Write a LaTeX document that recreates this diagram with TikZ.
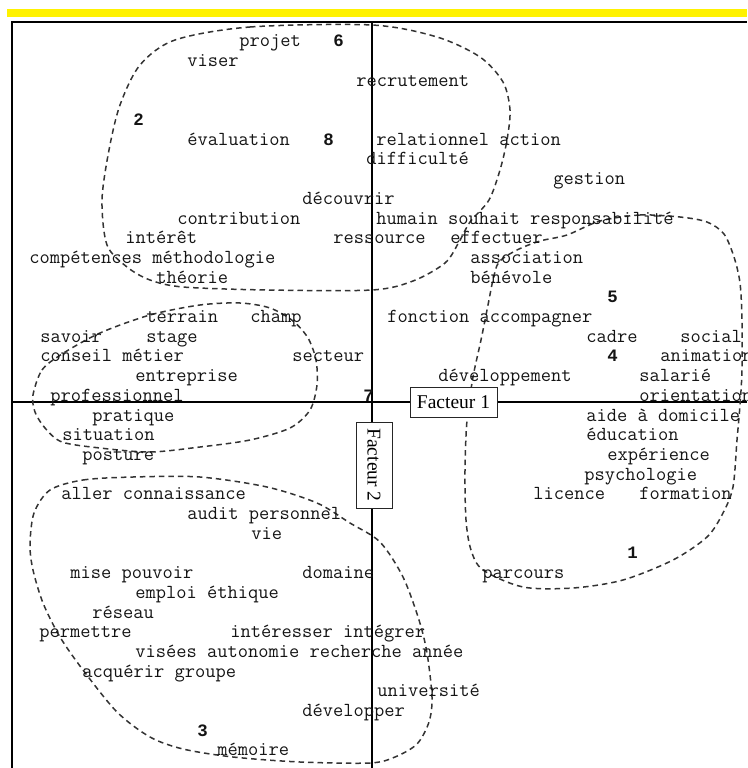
\documentclass[tikz,border=0pt]{standalone}
\usepackage{fontspec}
\newfontfamily\axefont{Liberation Serif}
\newfontfamily\chiffrefont{Liberation Mono}
\usetikzlibrary{positioning}

\begin{document}
\begin{tikzpicture}[x=1pt,y=-1pt,semithick]
  \tikzstyle{mot}=[anchor=base west,inner sep=0pt,text=black!92,font=\ttfamily\fontsize{19.9}{22}\selectfont]
  \tikzstyle{num}=[mot,font=\chiffrefont\bfseries\fontsize{17.4}{20}\selectfont]
  \tikzstyle{facteur}=[draw=black!85,fill=white,inner sep=1pt,line width=1pt,font=\axefont\fontsize{19.5}{22}\selectfont]
  \tikzstyle{groupe}=[dash pattern=on 5.5pt off 4pt,line width=1.5pt,black!80]

  \useasboundingbox (0,0) rectangle (747,768);
  \fill[yellow] (7,9.3) rectangle (747,16.7);

  % cadre et axes
  \coordinate (bas) at (12,768);
  \coordinate (coin) at (12,22);
  \coordinate (droite) at (747,22);
  \draw[line width=1.4pt] (bas) -- (coin) -- (droite);
  \coordinate (axe1g) at (12,402);
  \coordinate (axe1d) at (747,402);
  \coordinate (axe2h) at (372,22);
  \coordinate (axe2b) at (372,768);
  \draw[line width=1.1pt] (axe1g) -- (axe1d);
  \draw[line width=1.1pt] (axe2h) -- (axe2b);

  % classes
  \draw[groupe] plot[smooth cycle] coordinates {(175,40) (250,27) (372,25) (437,37) (480,57) (503,82)
    (510,110) (507,140) (500,170) (489,200) (470,222) (459,242) (445,263) (413,281) (372,290)
    (267,290) (183,287) (150,280) (127,267) (107,245) (102,200) (109,150) (120,105) (140,65)};
  \draw[groupe] plot[smooth cycle] coordinates {(33,395) (42,370) (62,354) (100,333) (150,315) (200,305)
    (240,303) (270,308) (293,321) (308,338) (316,360) (317,385) (310,410) (290,428) (250,440)
    (200,447) (150,452) (100,448) (62,442) (45,428) (35,412)};
  \draw[groupe] plot[smooth cycle] coordinates {(600,221) (640,215) (680,217) (707,222) (724,234)
    (734,257) (740,283) (742,320) (742,370) (740,405) (737,440) (733,487) (723,513) (707,537)
    (673,560) (623,580) (573,588) (523,587) (483,570) (471,550) (466,520) (465,470) (467,420)
    (473,377) (481,340) (488,305) (493,280) (499,262) (517,250) (540,241) (567,235)};
  \draw[groupe] plot[smooth cycle] coordinates {(50,490) (83,480) (133,477) (200,477) (267,487)
    (317,503) (350,523) (380,542) (403,577) (419,620) (427,653) (432,697) (429,722) (417,744)
    (395,757) (370,763) (300,762) (233,757) (183,749) (150,737) (117,712) (83,670) (60,637)
    (43,603) (33,570) (30,545) (34,513)};

  % mots
  \foreach \n/\x/\r/\t in {projet/239/0/projet, viser/187/1/viser, recrutement/356/2/recrutement,
      evaluation/187/5/évaluation, relationnel/376/5/relationnel action, difficulte/366/6/difficulté,
      gestion/553/7/gestion, decouvrir/302/8/découvrir, contribution/177/9/contribution,
      humain/376/9/humain souhait responsabilité, interet/125/10/intérêt, ressource/333/10/ressource,
      effectuer/450/10/effectuer, competences/29/11/compétences méthodologie,
      association/470/11/association, theorie/156/12/théorie, benevole/470/12/bénévole,
      terrain/146/14/terrain, champ/250/14/champ, fonction/387/14/fonction accompagner,
      savoir/40/15/savoir, stage/146/15/stage, cadre/586/15/cadre, social/680/15/social,
      conseil/40/16/conseil métier, secteur/292/16/secteur, animation/660/16/animation,
      entreprise/135/17/entreprise, developpement/438/17/développement, salarie/639/17/salarié,
      professionnel/50/18/professionnel, orientation/639/18/orientation, pratique/92/19/pratique,
      aide/586/19/aide à domicile, situation/62/20/situation, education/586/20/éducation,
      posture/82/21/posture, experience/607/21/expérience, psychologie/584/22/psychologie,
      aller/61/23/aller connaissance, licence/533/23/licence, formation/639/23/formation,
      audit/187/24/audit personnel, vie/251/25/vie, mise/70/27/mise pouvoir, domaine/302/27/domaine,
      parcours/482/27/parcours, emploi/135/28/emploi éthique, reseau/92/29/réseau,
      permettre/39/30/permettre, interesser/230/30/intéresser intégrer,
      visees/135/31/visées autonomie recherche année, acquerir/82/32/acquérir groupe,
      universite/377/33/université, developper/302/34/développer, memoire/217/36/mémoire}
    \node[mot] (\n) at (\x,{46.7+19.7*\r}) {\t};

  % numeros des classes
  \foreach \n/\x/\r in {6/333/0, 2/133/4, 8/323/5, 5/607/13, 4/607/16, 7/363/18, 1/627/26, 3/197/35}
    \node[num] (c\n) at (\x,{46.7+19.7*\r}) {\n};

  \node[facteur,minimum width=87pt,minimum height=30pt] (F1) at (453.5,402) {Facteur 1};
  \node[facteur,rotate=-90,minimum width=86pt,minimum height=36pt] (F2) at (374,465) {Facteur 2};
\end{tikzpicture}
\end{document}
